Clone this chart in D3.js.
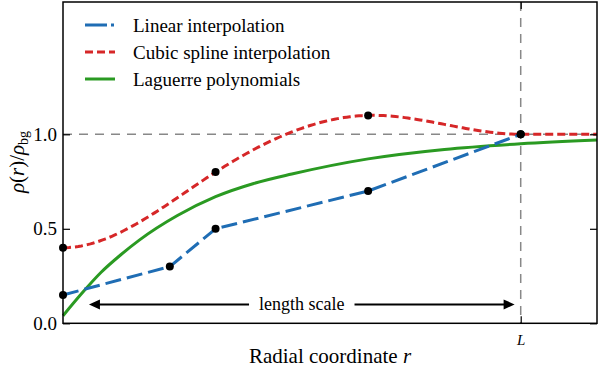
<!DOCTYPE html>
<html>
<head>
<meta charset="utf-8">
<script src="https://cdn.jsdelivr.net/npm/d3@7"></script>
<style>
  body { margin: 0; background: #fff; }
  svg { display: block; }
  svg text { font-family: "Liberation Serif", "Times New Roman", Times, "DejaVu Serif", serif; }
</style>
</head>
<body>
<div id="chart"></div>
<script>
// knots (r in units where L = 3)
const linearR = [0, 0.7, 1.0, 2.0, 3.0];
const linearVals = [0.15, 0.3, 0.5, 0.7, 1.0];
const splineR = [0, 1, 2, 3];
const splineVals = [0.4, 0.8, 1.1, 1.0];
const tailR = [3, 3.5];
const tailVals = [1.0, 1.0];
const laguerreR = [0, 0.125, 0.25, 0.375, 0.5, 0.75, 1, 1.25, 1.5, 2, 2.5, 3, 3.5];
const laguerreVals = [0.04, 0.16, 0.27, 0.36, 0.44, 0.57, 0.67, 0.74, 0.79, 0.87, 0.92, 0.95, 0.97];
const yTicks = [0, 0.5, 1.0];
const xTicks = [3];
const xTickLabels = ["L"];
const Lval = 3, bgVal = 1.0;
const arrowR = [0.17, 2.96], arrowY = 0.1;

const width = 600, height = 368;
const pLeft = 63, pRight = 597, pTop = 2, pBottom = 323.3;
const serif = "'Liberation Serif', 'Times New Roman', serif";

const x = d3.scaleLinear().domain([0, 3.5]).range([pLeft, pRight]);
const y = d3.scaleLinear().domain([0, 1.7]).range([pBottom, pTop]);

const svg = d3.select("#chart").append("svg")
    .attr("width", width)
    .attr("height", height)
    .attr("font-family", serif);

// clamped cubic spline (zero slope at both ends) through the knots
function clampedSpline(xs, ys) {
  const n = xs.length - 1;
  const h = d3.range(n).map(i => xs[i + 1] - xs[i]);
  const a = [], b = [], c = [], d = [];
  a[0] = 0; b[0] = 2 * h[0]; c[0] = h[0]; d[0] = 6 * ((ys[1] - ys[0]) / h[0]);
  for (let i = 1; i < n; i++) {
    a[i] = h[i - 1]; b[i] = 2 * (h[i - 1] + h[i]); c[i] = h[i];
    d[i] = 6 * ((ys[i + 1] - ys[i]) / h[i] - (ys[i] - ys[i - 1]) / h[i - 1]);
  }
  a[n] = h[n - 1]; b[n] = 2 * h[n - 1]; c[n] = 0; d[n] = 6 * (0 - (ys[n] - ys[n - 1]) / h[n - 1]);
  for (let i = 1; i <= n; i++) {
    const m = a[i] / b[i - 1];
    b[i] -= m * c[i - 1]; d[i] -= m * d[i - 1];
  }
  const M = [];
  M[n] = d[n] / b[n];
  for (let i = n - 1; i >= 0; i--) M[i] = (d[i] - c[i] * M[i + 1]) / b[i];
  return function(t) {
    let i = Math.min(n - 1, Math.max(0, d3.bisectRight(xs, t) - 1));
    const hi = h[i], u = xs[i + 1] - t, v = t - xs[i];
    return M[i] * u * u * u / (6 * hi) + M[i + 1] * v * v * v / (6 * hi)
      + (ys[i] / hi - M[i] * hi / 6) * u + (ys[i + 1] / hi - M[i + 1] * hi / 6) * v;
  };
}

const line = d3.line().x(d => x(d[0])).y(d => y(d[1]));

// reference lines
svg.append("line")
    .attr("x1", x(0)).attr("x2", x(3.5))
    .attr("y1", y(bgVal)).attr("y2", y(bgVal))
    .attr("stroke", "#888").attr("stroke-width", 1.5)
    .attr("stroke-dasharray", "9,7");
svg.append("line")
    .attr("x1", x(Lval)).attr("x2", x(Lval))
    .attr("y1", pTop).attr("y2", pBottom)
    .attr("stroke", "#888").attr("stroke-width", 1.5)
    .attr("stroke-dasharray", "9,7");

// Laguerre
svg.append("path")
    .datum(d3.zip(laguerreR, laguerreVals))
    .attr("d", line.curve(d3.curveMonotoneX))
    .attr("fill", "none")
    .attr("stroke", "#2a9a22")
    .attr("stroke-width", 3);

// cubic spline
const spl = clampedSpline(splineR, splineVals);
const splinePts = d3.range(0, 3.0001, 0.02).map(t => [t, spl(t)]).concat(d3.zip(tailR, tailVals));
svg.append("path")
    .datum(splinePts)
    .attr("d", line.curve(d3.curveLinear))
    .attr("fill", "none")
    .attr("stroke", "#d62728")
    .attr("stroke-width", 3)
    .attr("stroke-dasharray", "8,4");

// linear
svg.append("path")
    .datum(d3.zip(linearR, linearVals))
    .attr("d", line.curve(d3.curveLinear))
    .attr("fill", "none")
    .attr("stroke", "#1f6db4")
    .attr("stroke-width", 3)
    .attr("stroke-dasharray", "16,6");

// knots
const dots = d3.zip(linearR, linearVals).concat(d3.zip(splineR, splineVals));
svg.append("g").selectAll("circle")
  .data(dots)
  .join("circle")
    .attr("cx", d => x(d[0]))
    .attr("cy", d => y(d[1]))
    .attr("r", 4)
    .attr("fill", "#000");

// length scale arrow
const ay = y(arrowY);
const lbl = svg.append("text")
    .attr("x", (x(arrowR[0]) + x(arrowR[1])) / 2)
    .attr("y", ay + 6)
    .attr("text-anchor", "middle")
    .attr("font-size", 18)
    .text("length scale");
const bb = lbl.node().getBBox();
svg.append("line")
    .attr("x1", x(arrowR[0]) + 8).attr("x2", bb.x - 10)
    .attr("y1", ay).attr("y2", ay)
    .attr("stroke", "#000").attr("stroke-width", 2);
svg.append("line")
    .attr("x1", bb.x + bb.width + 10).attr("x2", x(arrowR[1]) - 8)
    .attr("y1", ay).attr("y2", ay)
    .attr("stroke", "#000").attr("stroke-width", 2);
[[x(arrowR[0]), 1], [x(arrowR[1]), -1]].forEach(([tx, s]) => {
  svg.append("path")
      .attr("d", `M${tx},${ay}L${tx + s * 11},${ay - 5}L${tx + s * 11},${ay + 5}Z`)
      .attr("fill", "#000");
});

// axes
function styleAxis(g) {
  g.attr("font-family", serif);
  g.select(".domain").remove();
  g.selectAll(".tick line").attr("stroke", "#000").attr("stroke-width", 1.2);
  g.selectAll("text").attr("fill", "#000");
}
svg.append("g")
    .attr("transform", `translate(${pLeft},0)`)
    .call(d3.axisLeft(y).tickValues(yTicks).tickFormat(d3.format(".1f")).tickSize(-7).tickPadding(6))
    .call(styleAxis)
    .selectAll("text").attr("font-size", 19);
svg.append("g")
    .attr("transform", `translate(${pRight},0)`)
    .call(d3.axisRight(y).tickValues(yTicks).tickFormat("").tickSize(-7))
    .call(styleAxis);
svg.append("g")
    .attr("transform", `translate(0,${pBottom})`)
    .call(d3.axisBottom(x).tickValues(xTicks).tickFormat((d, i) => xTickLabels[i]).tickSize(-7).tickPadding(11))
    .call(styleAxis)
    .selectAll("text").attr("font-size", 15).attr("font-style", "italic");
svg.append("g")
    .attr("transform", `translate(0,${pTop})`)
    .call(d3.axisTop(x).tickValues(xTicks).tickFormat("").tickSize(-7))
    .call(styleAxis);

svg.append("rect")
    .attr("x", pLeft).attr("y", pTop)
    .attr("width", pRight - pLeft).attr("height", pBottom - pTop)
    .attr("fill", "none").attr("stroke", "#000").attr("stroke-width", 1.5);

// axis titles
const xl = svg.append("text")
    .attr("x", (pLeft + pRight) / 2)
    .attr("y", 363)
    .attr("text-anchor", "middle")
    .attr("font-size", 21);
xl.append("tspan").text("Radial coordinate ");
xl.append("tspan").attr("font-style", "italic").text("r");

const yl = svg.append("text")
    .attr("transform", "translate(24,162) rotate(-90)")
    .attr("text-anchor", "middle")
    .attr("font-size", 21);
yl.append("tspan").attr("font-style", "italic").text("ρ");
yl.append("tspan").text("(");
yl.append("tspan").attr("font-style", "italic").text("r");
yl.append("tspan").text(")/");
yl.append("tspan").attr("font-style", "italic").text("ρ");
yl.append("tspan").attr("font-size", 14).attr("dy", 4).text("bg");

// legend
const legend = [
  {name: "Linear interpolation", color: "#1f6db4", dash: "22,4,3,10"},
  {name: "Cubic spline interpolation", color: "#d62728", dash: "8,4"},
  {name: "Laguerre polynomials", color: "#2a9a22", dash: null}
];
const lg = svg.append("g").selectAll("g")
  .data(legend)
  .join("g")
    .attr("transform", (d, i) => `translate(0,${25 + i * 27})`);
lg.append("line")
    .attr("x1", 85).attr("x2", 115)
    .attr("stroke", d => d.color)
    .attr("stroke-width", 3)
    .attr("stroke-dasharray", d => d.dash);
lg.append("text")
    .attr("x", 133)
    .attr("y", 7)
    .attr("font-size", 19)
    .text(d => d.name);
</script>
</body>
</html>
